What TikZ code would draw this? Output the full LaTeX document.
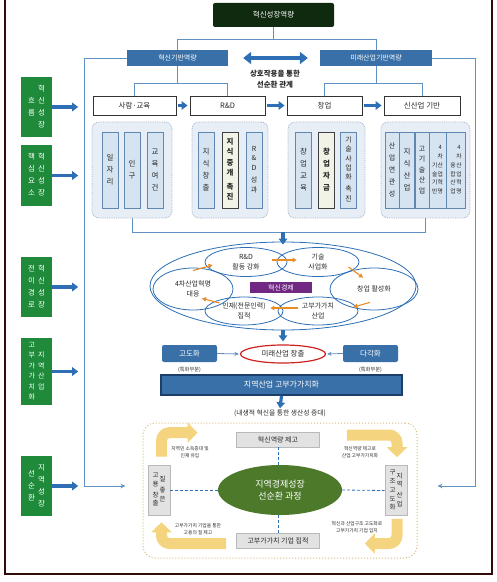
\documentclass[tikz,border=0pt]{standalone}
\usepackage{fontspec}
\setmainfont{Noto Sans CJK KR}
\usepackage{tikz}
\usetikzlibrary{calc,positioning,shapes.geometric,arrows.meta}

\definecolor{topgreen}{RGB}{16,42,16}
\definecolor{sidegreen}{RGB}{30,138,58}
\definecolor{steel}{RGB}{58,112,168}
\definecolor{steeldark}{RGB}{28,62,104}
\definecolor{linkblue}{RGB}{95,145,195}
\definecolor{arrblue}{RGB}{45,110,180}
\definecolor{grpfill}{RGB}{232,238,245}
\definecolor{grpline}{RGB}{160,180,200}
\definecolor{colfill}{RGB}{214,227,240}
\definecolor{colline}{RGB}{95,135,175}
\definecolor{hifill}{RGB}{240,243,230}
\definecolor{orng}{RGB}{232,140,35}
\definecolor{purp}{RGB}{112,40,130}
\definecolor{redline}{RGB}{205,35,35}
\definecolor{greybox}{RGB}{226,226,226}
\definecolor{greyline}{RGB}{185,185,185}
\definecolor{coregreen}{RGB}{76,122,42}
\definecolor{yel}{RGB}{245,212,128}
\definecolor{dashtan}{RGB}{218,186,120}
\definecolor{framecol}{RGB}{50,10,10}
\definecolor{txt}{RGB}{40,40,40}

\newcommand{\vcol}[2][c]{\begin{tabular}[#1]{@{}c@{}}#2\end{tabular}}
\newcommand{\fs}[2]{\fontsize{#1}{#2}\selectfont}

\tikzset{
  topbox/.style={fill=topgreen, text=white, rounded corners=2bp, minimum width=121bp, minimum height=24bp, inner sep=0pt, font=\fs{7.5}{9}},
  sidebox/.style={fill=sidegreen, text=white, minimum width=31bp, minimum height=60bp, inner sep=0pt, font=\fs{7.5}{12}},
  bluebox/.style={fill=steel, text=white, minimum height=16bp, inner sep=0pt, font=\fs{7}{8}},
  rowbox/.style={draw=black!80, fill=white, line width=0.8bp, minimum height=19bp, inner sep=0pt, text=txt, font=\fs{7.5}{9}},
  grp/.style={draw=grpline, fill=grpfill, densely dotted, line width=0.8bp, rounded corners=7bp, minimum height=96bp},
  col/.style={draw=colline, fill=colfill, line width=0.6bp, minimum width=16bp, minimum height=76bp, inner sep=0pt, text=txt, font=\fs{7.5}{12}},
  hicol/.style={col, draw=black!75, fill=hifill, line width=0.8bp, font=\bfseries\fs{7.5}{10.5}},
  conn/.style={draw=linkblue, line width=0.8bp},
  bigarr/.style={draw=arrblue, line width=3.2bp, -{Triangle[width=8.5bp,length=6bp]}},
  oarr/.style={draw=orng, line width=1.1bp, -{Triangle[width=4.5bp,length=4bp]}},
  ell/.style={ellipse, draw=arrblue, line width=0.8bp, inner sep=0pt, align=center, text=txt, font=\fs{7}{9.5}},
  gbox/.style={draw=greyline, fill=greybox, line width=0.6bp, inner sep=0pt, text=txt, font=\fs{7}{8}},
  dconn/.style={draw=arrblue, densely dashed, line width=0.8bp},
  yarr/.style={draw=yel, line width=11bp, rounded corners=8bp, -{Triangle[width=20bp,length=10bp]}},
  small/.style={align=center, text=txt, inner sep=0pt, font=\fs{4.8}{7.5}}
}

\begin{document}
\begin{tikzpicture}[x=1bp,y=-1bp]
\useasboundingbox (0,0) rectangle (497,582);
\draw[framecol,line width=1.2bp] (5,0) -- (5,574) -- (492,574) -- (492,0);

% upper tree
\node[topbox] (top) at (273.5,15) {혁신성장역량};
\node[bluebox,minimum width=101bp] (base) at (177.5,58) {혁신기반역량};
\node[bluebox,minimum width=112bp] (future) at (376,58) {미래산업기반역량};
\draw[conn] (top.south) -- ++(0,12) coordinate (tj);
\draw[conn] (tj) -| (base.north);
\draw[conn] (tj) -| (future.north);
\draw[arrblue,line width=4bp,{Triangle[width=12bp,length=8bp]}-{Triangle[width=12bp,length=8bp]}] ([xshift=15bp]base.east) -- ([xshift=-12bp]future.west);
\node[align=center,text=txt,font=\bfseries\fs{7.5}{11.5}] (inter) at (275,79) {상호작용을 통한\\선순환 관계};

\node[rowbox,minimum width=83bp] (people) at (134.5,105.5) {사람·교육};
\node[rowbox,minimum width=75bp] (rnd) at (227.5,105.5) {R\&D};
\node[rowbox,minimum width=75bp] (startup) at (324.5,105.5) {창업};
\node[rowbox,minimum width=76bp] (newind) at (422,105.5) {신산업 기반};
\draw[conn] (base.south) -- ++(0,17) coordinate (bj);
\draw[conn] (bj) -| (people.north);
\draw[conn] (bj) -| (rnd.north);
\draw[conn] (future.south) -- ++(0,17) coordinate (fj);
\draw[conn] (fj) -| (startup.north);
\draw[conn] (fj) -| (newind.north);
\draw[bigarr,shorten <=2bp,shorten >=2bp] (people) -- (rnd);
\draw[bigarr,shorten <=2bp,shorten >=2bp] (rnd) -- (startup);
\draw[bigarr,shorten <=2bp,shorten >=2bp] (startup) -- (newind);

% core elements
\node[grp,minimum width=80bp] (g1) at (132,170) {};
\node[grp,minimum width=76bp] (g2) at (230,170) {};
\node[grp,minimum width=77bp] (g3) at (326.5,170) {};
\node[grp,minimum width=89bp] (g4) at (425.5,170) {};
\node[col] (c11) at (110,170) {\vcol{일\\자\\리}};
\node[col] (c12) at (132,170) {\vcol{인\\구}};
\node[col] (c13) at (155,170) {\vcol{교\\육\\여\\건}};
\node[col] (c21) at (206,170) {\vcol{지\\식\\창\\출}};
\node[hicol] (c22) at (230,170) {\vcol{지\\식\\중\\개\\[3bp]촉\\진}};
\node[col,font=\fs{7}{9.5}] (c23) at (254,170) {\vcol{R\\\&\\D\\[3bp]성\\과}};
\node[col] (c31) at (303.5,170) {\vcol{창\\업\\교\\육}};
\node[hicol,font=\bfseries\fs{7.5}{12}] (c32) at (326.5,170) {\vcol{창\\업\\자\\금}};
\node[col,font=\fs{7}{9.3}] (c33) at (348.5,170) {\vcol{기\\술\\사\\업\\화\\[3bp]촉\\진}};
\node[col,minimum width=14bp,font=\fs{7}{12}] (c41) at (392,170) {\vcol{산\\업\\연\\관\\성}};
\node[col,minimum width=15bp] (c42) at (407,170) {\vcol{지\\식\\산\\업}};
\node[col,minimum width=14bp,font=\fs{7}{10.5}] (c43) at (422,170) {\vcol{고\\기\\술\\산\\업}};
\node[col,minimum width=17bp,font=\fs{5.8}{8.8}] (c44) at (437.5,170) {\vcol[b]{기\\술\\기\\반}\vcol[b]{4\\차\\산\\업\\혁\\명}};
\node[col,minimum width=19bp,font=\fs{5.8}{8.8}] (c45) at (456,170) {\vcol[b]{융\\합\\산\\업}\hspace{0.5bp}\vcol[b]{4\\차\\산\\업\\혁\\명}};
\draw[conn] (g1.south) -- ++(0,14) -| (g4.south);
\coordinate (gmid) at (283,232);

% transfer path
\node[ellipse,draw=arrblue,line width=0.8bp,minimum width=266bp,minimum height=88bp,inner sep=0pt] (outer) at (283,286) {};
\node[ell,minimum width=82bp,minimum height=29bp] (e1) at (246,262) {R\&D\\활동 강화};
\node[ell,minimum width=82bp,minimum height=29bp] (e2) at (318,262) {기술\\사업화};
\node[ell,minimum width=88bp,minimum height=42bp] (e3) at (374,289) {창업 활성화};
\node[ell,minimum width=80bp,minimum height=28bp] (e4) at (318,311) {고부가가치\\산업};
\node[ell,minimum width=78bp,minimum height=28bp] (e5) at (244,311) {인재(전문인력)\\집적};
\node[ell,minimum width=80bp,minimum height=42bp] (e6) at (193,289) {4차산업혁명\\대응};
\node[fill=purp,text=white,minimum width=62bp,minimum height=11bp,inner sep=0pt,font=\fs{7}{8}] (econ) at (281,287.5) {혁신경제};
\draw[oarr] ($(e6.north)+(0,3)$) -- ($(e1.west)+(8,3)$);
\draw[oarr] ($(e1.east)+(-15,-2)$) -- ($(e2.west)+(20,-2)$);
\draw[oarr] ($(e2.east)+(-11,5)$) -- ($(e3.north)+(-11,10)$);
\draw[oarr] ($(e3.south)+(-4,-8)$) -- ($(e4.east)+(-5,-4)$);
\draw[oarr] ($(e4.west)+(20,-3)$) -- ($(e5.east)+(-13,-3)$);
\draw[oarr] ($(e5.west)+(15,-8)$) -- ($(e6.south)+(9,-12)$);
\draw[bigarr] (gmid) -- ($(outer.north)+(0,3)$);

% future industry
\node[ellipse,draw=redline,fill=white,line width=1.2bp,minimum width=85bp,minimum height=18bp,inner sep=0pt,text=txt,font=\fs{7.5}{9}] (fut) at (283,354) {미래산업 창출};
\node[bluebox,rounded corners=2bp,minimum width=55bp,minimum height=17bp,font=\fs{7.5}{9},label={[text=txt,font=\fs{5.2}{6},label distance=1bp]below:(특화부문)}] (adv) at (189.5,353.5) {고도화};
\node[bluebox,rounded corners=2bp,minimum width=55bp,minimum height=17bp,font=\fs{7.5}{9},label={[text=txt,font=\fs{5.2}{6},label distance=1bp]below:(특화부문)}] (div) at (370.5,353.5) {다각화};
\draw[bigarr,shorten >=3bp] (outer.south) -- (fut.north);
\draw[conn,-{Stealth[length=4.5bp,width=4bp]},shorten >=1bp] (adv.east) -- (fut.west);
\draw[conn,-{Stealth[length=4.5bp,width=4bp]},shorten >=1bp] (div.west) -- (fut.east);
\node[fill=steel,draw=steeldark,line width=1.5bp,text=white,minimum width=241bp,minimum height=20bp,inner sep=0pt,font=\fs{8}{9}] (bar) at (281.5,385) {지역산업 고부가가치화};
\node[text=txt,inner sep=1bp,font=\fs{6.8}{8}] (note) at (280,413) {(내생적 혁신을 통한 생산성 증대)};
\draw[bigarr] (bar.south) -- (note.north);

% regional cycle
\node[draw=dashtan,dotted,line width=1bp,rounded corners=12bp,minimum width=274bp,minimum height=135bp] (cyc) at (280,490.5) {};
\node[gbox,minimum width=83bp,minimum height=15bp] (inno) at (278,439.5) {혁신역량 제고};
\node[gbox,minimum width=83bp,minimum height=15bp] (hva) at (278,540.5) {고부가가치 기업 집적};
\node[ellipse,fill=coregreen,text=white,minimum width=124bp,minimum height=50bp,inner sep=0pt,align=center,font=\fs{9}{12.5}] (core) at (280,490) {지역경제성장\\선순환 과정};
\node[gbox,minimum width=22bp,minimum height=50bp,font=\fs{6.5}{8.8}] (lbox) at (159,490) {\vcol{고\\용\\[2bp]창\\출}\hspace{1bp}\vcol{질\\[2bp]좋\\은}};
\node[gbox,minimum width=22bp,minimum height=50bp,font=\fs{6.5}{8.8}] (rbox) at (396,490.5) {\vcol{구\\조\\고\\도\\화}\hspace{1bp}\vcol{지\\역\\[2bp]산\\업}};
\draw[dconn] (lbox.east) -- (core.west);
\draw[dconn] (core.east) -- (rbox.west);
\draw[dconn] (inno.south) -- (inno.south |- core.north);
\draw[dconn] (hva.north |- core.south) -- (hva.north);
\draw[yarr] ($(lbox.north)+(2.5,-8)$) |- ++(36,-24);
\draw[yarr] ($(inno.east)+(27,-4.5)$) -| ($(rbox.north)+(1,-8)$);
\draw[yarr] ($(rbox.south)+(1,3)$) |- ($(hva.east)+(45,3)$);
\draw[yarr] ($(hva.west)+(-10,3)$) -| ($(lbox.south)+(2.5,7)$);
\node[small] (t1) at (190,452) {지역민 소득증대 및\\인재 유입};
\node[small] (t2) at (360,452) {혁신역량 제고로\\산업 고부가가치화};
\node[small] (t3) at (198,529) {고부가가치 기업을 통한\\고용의 질 제고};
\node[small] (t4) at (357,527) {혁신과 산업구조 고도화로\\고부가가치 기업 입지};

% stage labels
\node[sidebox] (s1) at (36.5,107) {\vcol{흐\\름}\hspace{3bp}\vcol{혁\\신\\성\\장}};
\node[sidebox,minimum height=61bp] (s2) at (36.5,175.5) {\vcol{핵\\심\\요\\소}\hspace{3bp}\vcol{혁\\신\\성\\장}};
\node[sidebox] (s3) at (36.5,287) {\vcol{전\\이\\경\\로}\hspace{3bp}\vcol{혁\\신\\성\\장}};
\node[sidebox,minimum height=67bp,font=\fs{7}{10.5}] (s4) at (36.5,371.5) {\vcol{고\\부\\가\\가\\치\\화}\hspace{3bp}\vcol{지\\역\\산\\업}};
\node[sidebox] (s5) at (36.5,486) {\vcol{선\\순\\환}\hspace{3bp}\vcol{지\\역\\성\\장}};
\draw[bigarr] (s1.east) -- ++(26,0);
\draw[bigarr] (s2.east) -- ++(26,0);
\draw[bigarr] (s3.east) -- ++(26,0);
\draw[bigarr] (s4.east) -- ++(26,0);
\draw[bigarr] (s5.east) -- ++(26,0);

% outer links
\draw[conn,-{Stealth[length=5bp,width=4.5bp]}] (base.west) -- ++(-42,0) |- ($(cyc.west)+(-17,-4.5)$);
\draw[conn,-{Stealth[length=5bp,width=4.5bp]}] (future.east) -- ++(43,0) |- ($(cyc.east)+(20,-4.5)$);
\end{tikzpicture}
\end{document}
